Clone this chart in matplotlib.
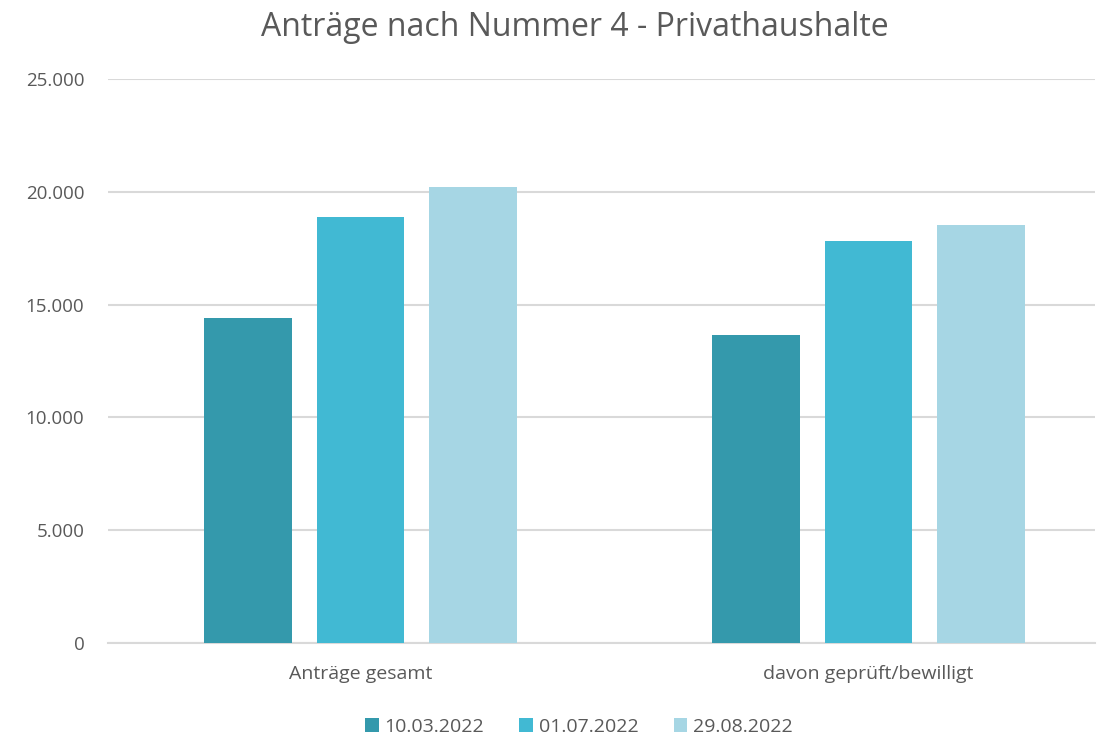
import matplotlib.pyplot as plt
from matplotlib.ticker import FuncFormatter

categories = ['Anträge gesamt', 'davon geprüft/bewilligt']
dates = ['10.03.2022', '01.07.2022', '29.08.2022']
werte_0310 = [14390, 13670]
werte_0107 = [18880, 17800]
werte_2908 = [20220, 18550]
colors = ['#3499AC', '#41B9D3', '#A6D6E4']

plt.rcParams['font.family'] = ['Open Sans', 'DejaVu Sans']
text_color = '#595959'

fig = plt.figure(figsize=(11.06, 7.41), dpi=100)
ax = fig.add_axes([108 / 1106, 1 - 643 / 741, (1095 - 108) / 1106, (643 - 79) / 741])

width = 0.173
step = 0.2215
x = list(range(len(categories)))
series = [werte_0310, werte_0107, werte_2908]
for k, (vals, lab, col) in enumerate(zip(series, dates, colors)):
    pos = [xi + (k - 1) * step for xi in x]
    ax.bar(pos, vals, width=width, color=col, label=lab, zorder=3)

ax.set_ylim(0, 25000)
ax.set_xlim(-0.497, 1.446)
ax.set_yticks(range(0, 25001, 5000))
ax.yaxis.set_major_formatter(FuncFormatter(lambda v, p: f'{int(v):,}'.replace(',', '.')))
ax.grid(axis='y', color='#D9D9D9', linewidth=1.5, zorder=0)
ax.set_xticks(x)
ax.set_xticklabels(categories)
ax.tick_params(axis='both', length=0, colors=text_color)
ax.tick_params(axis='y', pad=17, labelsize=13.5)
ax.tick_params(axis='x', pad=16, labelsize=14)
for s in ['top', 'right', 'left']:
    ax.spines[s].set_visible(False)
ax.spines['bottom'].set_color('#D9D9D9')
ax.spines['bottom'].set_linewidth(1.5)

fig.suptitle('Anträge nach Nummer 4 - Privathaushalte', x=575 / 1106, y=0.985,
             fontsize=23, color=text_color)
fig.legend(loc='center', bbox_to_anchor=(579 / 1106, 1 - 727 / 741), ncol=3, frameon=False,
           fontsize=14, labelcolor=text_color, handlelength=0.7, handleheight=0.7,
           handletextpad=0.3, columnspacing=1.8)

fig.savefig('out.png', dpi=100)
